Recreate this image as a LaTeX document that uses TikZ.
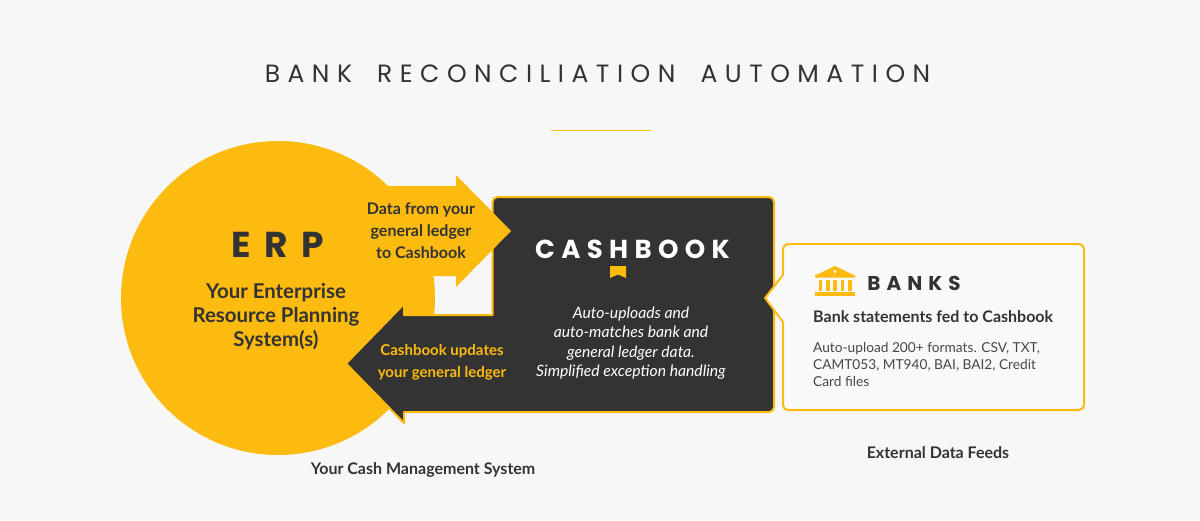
\documentclass[tikz,border=0pt]{standalone}
\usepackage{fontspec}
\setmainfont{Lato}
\newfontfamily\titlefont[LetterSpace=30]{Poppins}
\newfontfamily\erpfont[LetterSpace=37,BoldFont=Poppins Bold]{Poppins}
\newfontfamily\cbfont[LetterSpace=24.5,BoldFont=Poppins Bold]{Poppins}
\newfontfamily\bkfont[LetterSpace=30,BoldFont=Poppins Bold]{Poppins}
\definecolor{brandyellow}{HTML}{FDBA0F}
\definecolor{ink}{HTML}{333333}
\definecolor{pagebg}{HTML}{F7F7F7}
\definecolor{cardbg}{HTML}{F9F9F9}
\tikzset{
  lab/.style={inner sep=0pt,align=center,text=ink,font=\fontsize{16}{22}\selectfont\bfseries},
  caption/.style={lab},
  edgebox/.style={draw=brandyellow,line width=2pt,line join=round},
}
\begin{document}
\begin{tikzpicture}[x=1pt,y=-1pt]
\useasboundingbox (0,0) rectangle (1200,520);
\fill[pagebg] (0,0) rectangle (1200,520);
\node[inner sep=0pt,text=ink,font=\fontsize{25}{25}\selectfont\titlefont] (title) at (597.5,74) {BANK\hspace{11pt} RECONCILIATION\hspace{11pt} AUTOMATION};
\draw[brandyellow,line width=1pt] (551,130.5) -- (651,130.5);
% ERP circle
\fill[brandyellow] (278,298) circle[radius=157];
% dark box with left arrow
\draw[edgebox,fill=ink] (404,315) -- (492.5,315) -- (492.5,202) arc[start angle=180,end angle=270,radius=5] -- (769,197) arc[start angle=270,end angle=360,radius=5] -- (774,407) arc[start angle=0,end angle=90,radius=5] -- (404,412) -- (404,423) -- (346,363.5) -- (404,304) -- cycle;
% yellow arrow
\fill[brandyellow] (380,186) -- (456,186) -- (456,175) -- (511,231) -- (456,287) -- (456,276) -- (380,276) -- cycle;
% banks card
\draw[edgebox,fill=cardbg] (783,275) -- (783,249) arc[start angle=180,end angle=270,radius=5] -- (1079,244) arc[start angle=270,end angle=360,radius=5] -- (1084,405) arc[start angle=0,end angle=90,radius=5] -- (788,410) arc[start angle=90,end angle=180,radius=5] -- (783,322) -- (765,298) -- cycle;
% bookmark
\fill[brandyellow] (610,266) -- (626,266) -- (626,278) -- (618,274.5) -- (610,278) -- cycle;
% bank icon
\fill[brandyellow] (815,275.5) -- (835,266) -- (855,275.5) -- (855,277.5) -- (815,277.5) -- cycle;
\fill[cardbg] (835,271.5) circle[radius=1.7];
\fill[brandyellow] (815,292) rectangle (855,296);
\foreach \cx in {818.5,826,833,840.5,848}{\fill[brandyellow] (\cx,279.5) rectangle (\cx+3.5,291);}
% texts
\node[inner sep=0pt,text=ink,font=\fontsize{36}{36}\selectfont\erpfont\bfseries] (erp) at (277.5,245) {ERP};
\node[lab,font=\fontsize{20.4}{24}\selectfont\bfseries] (erpsub) at (276,317) {Your Enterprise\\Resource Planning\\System(s)};
\node[lab] (feed) at (421,230.5) {Data from your\\general ledger\\to Cashbook};
\node[lab,text=brandyellow,font=\fontsize{15}{22}\selectfont\bfseries] (upd) at (442,362) {Cashbook updates\\your general ledger};
\node[inner sep=0pt,text=white,font=\fontsize{26}{26}\selectfont\cbfont\bfseries] (cb) at (632.5,249) {CASHBOOK};
\node[inner sep=0pt,align=center,text=white,font=\fontsize{15.7}{19.3}\selectfont\itshape] (cbtxt) at (631,343) {Auto-uploads and\\auto-matches bank and\\general ledger data.\\Simplified exception handling};
\node[inner sep=0pt,text=ink,font=\fontsize{20}{20}\selectfont\bkfont\bfseries] (banks) at (914,283) {BANKS};
\node[lab,anchor=west,font=\fontsize{16}{20}\selectfont\bfseries] (stm) at (813,317) {Bank statements fed to Cashbook};
\node[inner sep=0pt,anchor=north west,align=left,text=ink!90!white,font=\fontsize{13.7}{17}\selectfont] (fmt) at (813,342) {Auto-upload 200+ formats. CSV, TXT,\\CAMT053, MT940, BAI, BAI2, Credit\\Card files};
\node[caption] (cap1) at (423,469.5) {Your Cash Management System};
\node[caption] (cap2) at (938,453) {External Data Feeds};
\end{tikzpicture}
\end{document}
